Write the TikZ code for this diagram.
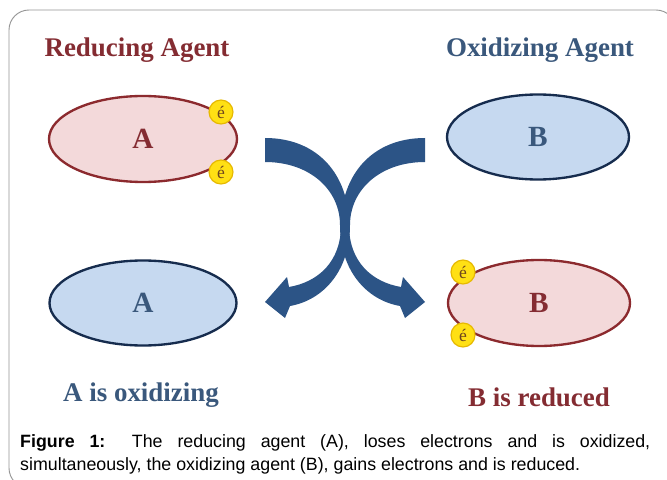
\documentclass[tikz,border=0pt]{standalone}
\usepackage{fontspec}
\setmainfont{Liberation Serif}
\setsansfont{Liberation Sans}
\usepackage{xcolor}
\usepackage{tikz}
\usetikzlibrary{shapes.geometric}

\definecolor{redline}{RGB}{140,42,46}
\definecolor{pinkfill}{RGB}{243,217,218}
\definecolor{navyline}{RGB}{22,44,78}
\definecolor{bluefill}{RGB}{198,217,240}
\definecolor{redtext}{RGB}{132,44,50}
\definecolor{bluetext}{RGB}{58,88,124}
\definecolor{arrowblue}{RGB}{44,84,134}
\definecolor{eyellow}{RGB}{255,224,20}
\definecolor{eborder}{RGB}{230,184,0}
\definecolor{ebrown}{RGB}{110,70,30}
\definecolor{framegray}{RGB}{150,150,150}

\begin{document}
\begin{tikzpicture}[x=0.03cm, y=-0.03cm, every node/.style={font=\bfseries\fontsize{23}{27}\selectfont}]
  \tikzstyle{redagent} = [ellipse, draw=redline, fill=pinkfill, line width=2pt,
                          minimum width=5.64cm, minimum height=2.58cm, text=redtext,
                          font=\bfseries\fontsize{25}{28}\selectfont]
  \tikzstyle{blueagent} = [ellipse, draw=navyline, fill=bluefill, line width=2pt,
                           minimum width=5.46cm, minimum height=2.55cm, text=bluetext,
                           font=\bfseries\fontsize{25}{28}\selectfont]
  \tikzstyle{electron} = [circle, draw=eborder, fill=eyellow, line width=1pt, minimum size=0.72cm,
                          inner sep=0pt, text=ebrown, font=\fontsize{15}{15}\selectfont]
  \tikzstyle{caption} = [text width=18.9cm, align=justify, inner sep=0pt, anchor=north west,
                         font=\sffamily\fontsize{15.2}{19.6}\selectfont]
  \useasboundingbox (0,0) rectangle (667,480);
  \fill[white] (0,0) rectangle (667,480);
  \draw[framegray, line width=0.8pt, rounded corners=0.6cm] (9,10) rectangle (676,488);

  % titles
  \node (t1) [text=redtext] at (137,50) {Reducing Agent};
  \node (t2) [text=bluetext] at (540,50) {Oxidizing Agent};

  % before
  \node (a1) [redagent] at (143,139) {A};
  \node (b1) [blueagent] at (538,137) {B};
  \node (e1) [electron] at (221,112) {é};
  \node (e2) [electron] at (221,172) {é};

  % crossing arrows
  \fill[arrowblue] (265,138) .. controls (318,138) and (349,175) .. (349,225)
    .. controls (349,262) and (372,282) .. (401,287)
    -- (403,277) -- (425,302) -- (405,318) -- (400,306)
    .. controls (366,300) and (340,270) .. (340,225)
    .. controls (340,190) and (310,162) .. (265,162) -- cycle;
  \fill[arrowblue] (425,138) .. controls (372,138) and (341,175) .. (341,225)
    .. controls (341,262) and (318,282) .. (289,287)
    -- (287,277) -- (265,302) -- (285,318) -- (290,306)
    .. controls (324,300) and (350,270) .. (350,225)
    .. controls (350,190) and (380,162) .. (425,162) -- cycle;

  % after
  \node (a2) [blueagent, minimum width=5.61cm] at (143,303) {A};
  \node (b2) [redagent, minimum width=5.46cm] at (539,303) {B};
  \node (e3) [electron] at (463,272) {é};
  \node (e4) [electron] at (463,335) {é};

  \node (t3) [text=bluetext] at (141,395) {A is oxidizing};
  \node (t4) [text=redtext] at (539,397) {B is reduced};

  \node (cap) [caption] at (20,434) {\textbf{Figure 1:} The reducing agent (A), loses electrons and is oxidized,\linebreak
    simultaneously, the oxidizing agent (B), gains electrons and is reduced.};
\end{tikzpicture}
\end{document}
